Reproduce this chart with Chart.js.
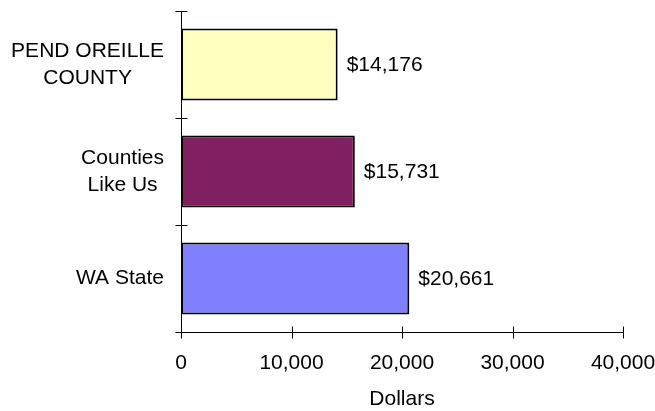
<!DOCTYPE html>
<html>
<head>
<meta charset="utf-8">
<script src="https://cdn.jsdelivr.net/npm/chart.js@4"></script>
<style>
  html, body { margin: 0; padding: 0; background: #ffffff; }
  #wrap { width: 655px; height: 411px; position: relative; }
</style>
</head>
<body>
<div id="wrap"><canvas id="c" width="655" height="411"></canvas></div>
<script>
// ---- data ----
const categories = [["PEND OREILLE", "COUNTY"], ["Counties", "Like Us"], ["WA State"]];
const values = [14176, 15731, 20661];
const barColors = ["#FFFFC0", "#802060", "#8080FF"];
const xTickValues = [0, 10000, 20000, 30000, 40000];
const xTitle = "Dollars";

const FONT = "'Liberation Sans', Arial, sans-serif";
const FS = 21;

const fmt = v => Number(v).toLocaleString('en-US');

const crossTicks = {
  id: 'crossTicks',
  afterDraw(chart) {
    const ctx = chart.ctx;
    const xs = chart.scales.x, ys = chart.scales.y;
    ctx.save();
    ctx.strokeStyle = '#000';
    ctx.lineWidth = 1;
    ctx.beginPath();
    const ax = Math.round(xs.left) + 0.5;
    for (let i = 0; i <= categories.length; i++) {
      const py = Math.round(ys.getPixelForValue(i - 0.5)) + 0.5;
      ctx.moveTo(ax - 6, py); ctx.lineTo(ax + 6, py);
    }
    const ay = Math.round(ys.bottom) + 0.5;
    xTickValues.forEach(v => {
      const px = Math.round(xs.getPixelForValue(v)) + 0.5;
      ctx.moveTo(px, ay - 6); ctx.lineTo(px, ay + 6);
    });
    ctx.stroke();
    ctx.restore();
  }
};

const catLabels = {
  id: 'catLabels',
  afterDraw(chart) {
    const ctx = chart.ctx;
    const ys = chart.scales.y;
    ctx.save();
    ctx.font = FS + "px " + FONT;
    ctx.fillStyle = '#000';
    ctx.textAlign = 'center';
    ctx.textBaseline = 'middle';
    const lh = 27;
    const rightEdge = chart.chartArea.left - 17;
    categories.forEach((lines, i) => {
      const cy = ys.getPixelForValue(i);
      const w = Math.max(...lines.map(l => ctx.measureText(l).width));
      const cx = rightEdge - w / 2;
      const y0 = cy - (lines.length - 1) * lh / 2;
      lines.forEach((l, j) => ctx.fillText(l, cx, y0 + j * lh));
    });
    ctx.restore();
  }
};

const valueLabels = {
  id: 'valueLabels',
  afterDatasetsDraw(chart) {
    const ctx = chart.ctx;
    const meta = chart.getDatasetMeta(0);
    ctx.save();
    ctx.font = FS + "px " + FONT;
    ctx.fillStyle = '#000';
    ctx.textAlign = 'left';
    ctx.textBaseline = 'middle';
    meta.data.forEach((bar, i) => {
      ctx.fillText('$' + fmt(values[i]), bar.x + 9, bar.y + 1);
    });
    ctx.restore();
  }
};

new Chart(document.getElementById('c'), {
  type: 'bar',
  data: {
    labels: categories.map(c => c.join(' ')),
    datasets: [{
      data: values,
      backgroundColor: barColors,
      borderColor: '#000',
      borderWidth: 2,
      borderSkipped: false,
      categoryPercentage: 1.0,
      barPercentage: 0.675
    }]
  },
  options: {
    indexAxis: 'y',
    responsive: false,
    animation: false,
    events: [],
    layout: { padding: { left: 181, right: 0, top: 11, bottom: 0 } },
    plugins: { legend: { display: false }, tooltip: { enabled: false } },
    scales: {
      x: {
        type: 'linear',
        min: 0, max: 40000,
        afterBuildTicks: s => { s.ticks = xTickValues.map(v => ({ value: v })); },
        afterFit: s => { s.paddingRight = 32; s.paddingLeft = 0; },
        grid: { display: false, drawTicks: false },
        border: { display: true, color: '#000', width: 1 },
        ticks: {
          color: '#000',
          font: { family: FONT, size: FS, lineHeight: 1 },
          padding: 20.5,
          maxRotation: 0,
          callback: v => fmt(v)
        },
        title: {
          display: true, text: xTitle, color: '#000',
          font: { family: FONT, size: FS, lineHeight: 1 },
          padding: { top: -5, bottom: 1 }
        }
      },
      y: {
        type: 'category',
        offset: true,
        grid: { display: false, drawTicks: false, offset: true },
        border: { display: true, color: '#000', width: 1 },
        ticks: { display: false }
      }
    }
  },
  plugins: [crossTicks, catLabels, valueLabels]
});
</script>
</body>
</html>
